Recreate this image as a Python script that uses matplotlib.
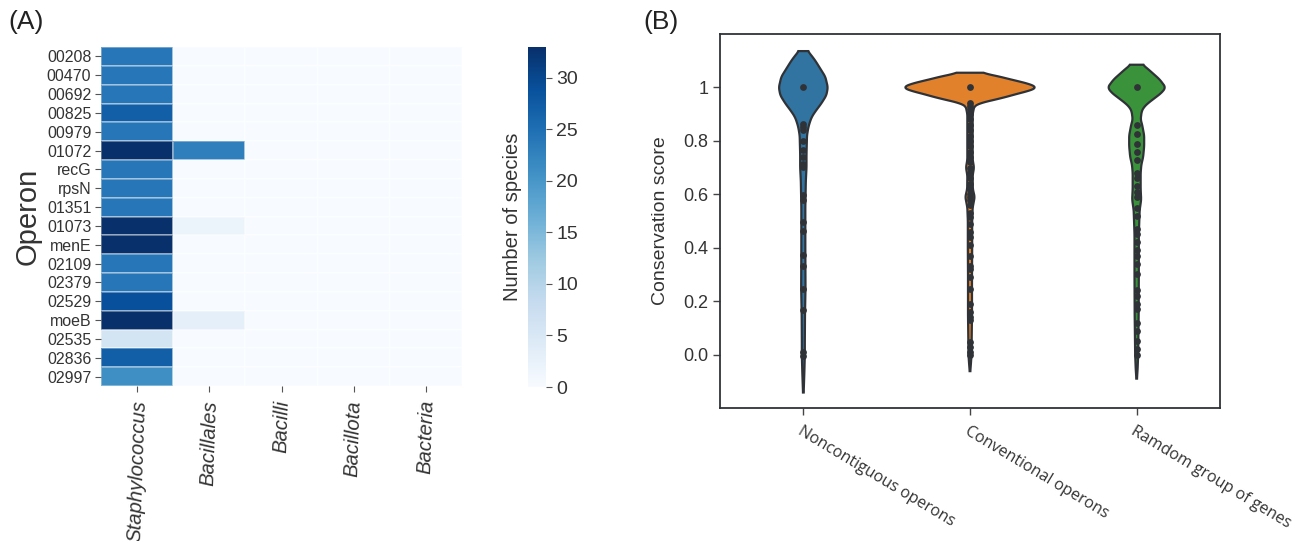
import numpy as np
import matplotlib
matplotlib.use("Agg")
import matplotlib.pyplot as plt

plt.rcParams['font.family'] = ['Liberation Sans', 'DejaVu Sans']

# ---------------- data: panel A ----------------
operons = ["00208", "00470", "00692", "00825", "00979", "01072", "recG", "rpsN", "01351",
           "01073", "menE", "02109", "02379", "02529", "moeB", "02535", "02836", "02997"]
taxa = ["Staphylococcus", "Bacillales", "Bacilli", "Bacillota", "Bacteria"]
staphylococcus = [24, 24, 24, 27, 24, 33, 24, 24, 24, 33, 33, 24, 24, 29, 33, 6, 27, 21]
bacillales = [0, 0, 0, 0, 0, 23, 0, 0, 0, 2, 0, 0, 0, 0, 3, 0, 0, 0]
bacilli = [0] * 18
bacillota = [0] * 18
bacteria = [0] * 18
cbar_ticks = [0, 5, 10, 15, 20, 25, 30]
vmax = 33

# ---------------- data: panel B ----------------
groups = ["Noncontiguous operons", "Conventional operons", "Ramdom group of genes"]
colors = ["#3274a1", "#e1812c", "#3a923a"]

# violin profiles: score levels and half-widths (category units)
noncontig_y = [1.136, 1.12, 1.10, 1.07, 1.04, 1.00, 0.97, 0.94, 0.91, 0.89, 0.87, 0.85, 0.82,
               0.75, 0.70, 0.65, 0.55, 0.40, 0.25, 0.15, 0.05, 0.0, -0.07, -0.142]
noncontig_w = [0.027, 0.048, 0.072, 0.102, 0.132, 0.147, 0.138, 0.108, 0.072, 0.051, 0.039,
               0.030, 0.022, 0.019, 0.019, 0.015, 0.012, 0.012, 0.013, 0.010, 0.009, 0.009,
               0.006, 0.002]
conv_y = [1.055, 1.045, 1.035, 1.02, 1.01, 1.00, 0.99, 0.976, 0.96, 0.951, 0.94, 0.93, 0.90,
          0.80, 0.73, 0.70, 0.67, 0.62, 0.59, 0.55, 0.50, 0.40, 0.30, 0.15, 0.05, 0.0, -0.03,
          -0.062]
conv_w = [0.060, 0.150, 0.210, 0.312, 0.372, 0.402, 0.372, 0.282, 0.192, 0.126, 0.054, 0.026,
          0.016, 0.016, 0.016, 0.024, 0.016, 0.017, 0.028, 0.016, 0.013, 0.013, 0.012, 0.012,
          0.010, 0.009, 0.006, 0.002]
random_y = [1.085, 1.07, 1.05, 1.03, 1.00, 0.98, 0.96, 0.94, 0.925, 0.91, 0.88, 0.86, 0.82,
            0.78, 0.74, 0.71, 0.68, 0.62, 0.58, 0.54, 0.45, 0.30, 0.15, 0.05, 0.0, -0.05, -0.09]
random_w = [0.036, 0.066, 0.102, 0.138, 0.174, 0.150, 0.108, 0.066, 0.042, 0.030, 0.024,
            0.033, 0.045, 0.045, 0.039, 0.028, 0.024, 0.024, 0.027, 0.018, 0.013, 0.013, 0.012,
            0.010, 0.009, 0.006, 0.002]

# individual scores (inner points)
noncontig_pts = [1.0, 0.864, 0.85, 0.839, 0.801, 0.764, 0.739, 0.714, 0.702, 0.596, 0.577,
                 0.496, 0.464, 0.371, 0.333, 0.246, 0.165, 0.009, -0.004]
conv_pts = [1.0, 0.94, 0.93, 0.92, 0.90, 0.88, 0.86, 0.84, 0.82, 0.80, 0.78, 0.76, 0.74, 0.72,
            0.70, 0.68, 0.66, 0.64, 0.62, 0.60, 0.59, 0.58, 0.56, 0.53, 0.515, 0.49, 0.46,
            0.44, 0.41, 0.37, 0.33, 0.32, 0.29, 0.246, 0.19, 0.16, 0.14, 0.13, 0.047, 0.03,
            0.01, 0.0]
random_pts = [1.0, 0.86, 0.825, 0.79, 0.76, 0.73, 0.68, 0.66, 0.63, 0.61, 0.59, 0.55, 0.52,
              0.47, 0.45, 0.42, 0.39, 0.37, 0.34, 0.30, 0.24, 0.22, 0.19, 0.17, 0.12, 0.09,
              0.05, 0.02, 0.0]
ytick_vals = [0.0, 0.2, 0.4, 0.6, 0.8, 1.0]
ytick_labels = ["0.0", "0.2", "0.4", "0.6", "0.8", "1"]

# ---------------- figure ----------------
W, H = 1296, 541
fig = plt.figure(figsize=(W / 100, H / 100), dpi=100)


def px_axes(l, t, r, b):
    return fig.add_axes([l / W, 1 - b / H, (r - l) / W, (b - t) / H])


# ---- Panel A: heatmap ----
axA = px_axes(101, 47, 462, 386)
mat = np.array([staphylococcus, bacillales, bacilli, bacillota, bacteria]).T
mesh = axA.pcolormesh(np.arange(len(taxa) + 1), np.arange(len(operons) + 1), mat,
                      cmap="Blues", vmin=0, vmax=vmax, edgecolors=(1, 1, 1, 0.35),
                      linewidth=0.3)
axA.set_xlim(0, len(taxa))
axA.set_ylim(len(operons), 0)
for s in axA.spines.values():
    s.set_visible(False)
axA.set_yticks(np.arange(len(operons)) + 0.5)
axA.set_yticklabels(operons, fontsize=11.5, color="#333333")
axA.set_xticks(np.arange(len(taxa)) + 0.5)
axA.set_xticklabels(taxa, fontsize=14.5, style="italic", rotation=88, color="#333333")
axA.tick_params(length=4, width=0.8, color="#555555", pad=3)
axA.tick_params(axis="x", pad=6)
axA.set_ylabel("Operon", fontsize=21, color="#333333", labelpad=4)

cax = px_axes(528, 47, 546, 387)
cb = fig.colorbar(mesh, cax=cax, ticks=cbar_ticks)
cb.outline.set_visible(False)
cax.yaxis.tick_right()
cax.tick_params(labelsize=14, length=4, width=0.8, color="#555555", labelcolor="#333333")
cax.yaxis.set_label_position("left")
cb.set_label("Number of species", fontsize=14.5, color="#333333", labelpad=4)

# ---- Panel B: violins ----
axB = px_axes(720, 34, 1220, 408)
profiles = [(noncontig_y, noncontig_w, noncontig_pts),
            (conv_y, conv_w, conv_pts),
            (random_y, random_w, random_pts)]
for i, (yy, ww, pts) in enumerate(profiles):
    yy = np.asarray(yy)
    ww = np.asarray(ww)
    fine = np.linspace(yy.min(), yy.max(), 400)
    wf = np.interp(fine, yy[::-1], ww[::-1])
    k = np.ones(7) / 7
    wf_s = np.convolve(np.pad(wf, 3, mode="edge"), k, mode="valid")
    xs = np.concatenate([i - wf_s, (i + wf_s)[::-1], [i - wf_s[0]]])
    ys = np.concatenate([fine, fine[::-1], [fine[0]]])
    axB.fill(xs, ys, facecolor=colors[i], edgecolor="#2f3337", linewidth=1.6, zorder=2)
    axB.scatter(np.full(len(pts), i), pts, s=24, color="#2f3337", zorder=3, linewidths=0)

axB.set_xlim(-0.5, 2.5)
axB.set_ylim(-0.2, 1.2)
axB.set_yticks(ytick_vals)
axB.set_yticklabels(ytick_labels)
axB.set_xticks(range(3))
axB.set_xticklabels(groups, rotation=-31, ha="left", va="top", rotation_mode="anchor",
                    fontsize=11.5, family=["Open Sans", "DejaVu Sans"], color="#333333")
axB.tick_params(axis="y", labelsize=13, length=5, width=1, color="#444444", labelcolor="#333333")
axB.tick_params(axis="x", length=5, width=1, color="#444444", pad=6)
for s in axB.spines.values():
    s.set_color("#2f3337")
    s.set_linewidth(1.3)
axB.set_ylabel("Conservation score", fontsize=14, color="#333333", labelpad=10)

fig.text(8 / W, 1 - 22 / H, "(A)", fontsize=19, va="center", ha="left", color="#222222")
fig.text(643 / W, 1 - 22 / H, "(B)", fontsize=19, va="center", ha="left", color="#222222")

fig.savefig("out.png", dpi=100)
